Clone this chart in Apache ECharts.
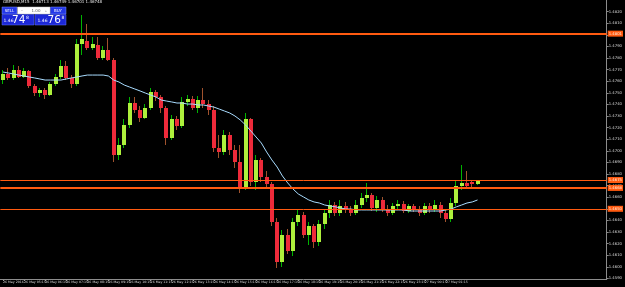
<!DOCTYPE html>
<html><head><meta charset="utf-8">
<script src="https://cdn.jsdelivr.net/npm/echarts@6/dist/echarts.min.js"></script>
<style>html,body{margin:0;padding:0;background:#000;}#c{width:625px;height:287px;}</style>
</head><body><div id="c"></div>
<script>
// ---- data (GBPUSD, M15) ----
const symbolTitle = 'GBPUSD,M15  1.46713 1.46749 1.46701 1.46748';
const tickLabels = ["26 May 2016","26 May 05:15","26 May 06:15","26 May 07:15","26 May 08:15","26 May 09:15","26 May 10:15","26 May 11:15","26 May 12:15","26 May 13:15","26 May 14:15","26 May 15:15","26 May 16:15","26 May 17:15","26 May 18:15","26 May 19:15","26 May 20:15","26 May 21:15","26 May 22:15","26 May 23:15","27 May 00:15","27 May 01:15","27 May 02:15"];
const priceTicks = [1.4820,1.4810,1.4800,1.4790,1.4780,1.4770,1.4760,1.4750,1.4740,1.4730,1.4720,1.4710,1.4700,1.4690,1.4680,1.4670,1.4660,1.4650,1.4640,1.4630,1.4620,1.4610,1.4600,1.4590];
const open = [
1.4761,1.4766,1.4763,1.4770,1.4764,
1.4769,1.4756,1.4750,1.4752,1.4748,
1.4758,1.4764,1.4773,1.4763,1.4758,
1.4792,1.4795,1.4789,1.4791,1.4780,
1.4787,1.4778,1.4696,1.4705,1.4722,
1.4741,1.4735,1.4728,1.4737,1.4751,
1.4746,1.4737,1.4711,1.4727,1.4721,
1.4742,1.4745,1.4737,1.4744,1.4740,
1.4735,1.4702,1.4699,1.4714,1.4701,
1.4690,1.4668,1.4727,1.4673,1.4692,
1.4677,1.4671,1.4639,1.4604,1.4627,
1.4614,1.4639,1.4645,1.4627,1.4635,
1.4621,1.4637,1.4646,1.4653,1.4646,
1.4652,1.4649,1.4646,1.4653,1.4659,
1.4662,1.4651,1.4658,1.4650,1.4646,
1.4652,1.4654,1.4648,1.4652,1.4650,
1.4646,1.4652,1.4649,1.4653,1.4646,
1.4641,1.4655,1.4670,1.4672,1.4673,
1.46713];
const close = [
1.4766,1.4763,1.4770,1.4764,1.4769,
1.4756,1.4750,1.4752,1.4748,1.4758,
1.4764,1.4773,1.4763,1.4758,1.4792,
1.4796,1.4789,1.4792,1.4780,1.4787,
1.4778,1.4696,1.4705,1.4722,1.4741,
1.4735,1.4728,1.4737,1.4751,1.4746,
1.4737,1.4711,1.4727,1.4721,1.4742,
1.4745,1.4737,1.4744,1.4740,1.4735,
1.4702,1.4699,1.4714,1.4701,1.4690,
1.4668,1.4727,1.4673,1.4692,1.4677,
1.4671,1.4639,1.4604,1.4627,1.4614,
1.4639,1.4645,1.4627,1.4635,1.4621,
1.4637,1.4646,1.4653,1.4646,1.4652,
1.4649,1.4646,1.4653,1.4659,1.4662,
1.4651,1.4658,1.4650,1.4646,1.4652,
1.4654,1.4648,1.4652,1.4650,1.4646,
1.4652,1.4649,1.4653,1.4646,1.4641,
1.4655,1.4670,1.4672,1.4670,1.4671,
1.46748];
const low = [
1.4758,1.4761,1.4761,1.4763,1.4763,
1.4754,1.4747,1.4746,1.4745,1.4747,
1.4756,1.4762,1.4761,1.4754,1.4756,
1.4783,1.4787,1.4787,1.4778,1.4778,
1.4777,1.4690,1.4692,1.4702,1.4720,
1.4733,1.4725,1.4727,1.4735,1.4743,
1.4733,1.4705,1.4709,1.4718,1.4720,
1.4739,1.4735,1.4733,1.4737,1.4731,
1.4699,1.4694,1.4696,1.4696,1.4685,
1.4664,1.4666,1.4670,1.4666,1.4673,
1.4668,1.4635,1.4599,1.4600,1.4611,
1.4609,1.4635,1.4625,1.4619,1.4616,
1.4618,1.4633,1.4642,1.4644,1.4644,
1.4646,1.4644,1.4645,1.4651,1.4656,
1.4648,1.4647,1.4647,1.4644,1.4645,
1.4649,1.4646,1.4646,1.4647,1.4644,
1.4645,1.4646,1.4647,1.4642,1.4639,
1.4639,1.4652,1.4666,1.4667,1.4668,
1.46701];
const high = [
1.4770,1.4771,1.4774,1.4773,1.4771,
1.4770,1.4758,1.4754,1.4754,1.4759,
1.4766,1.4778,1.4777,1.4765,1.4796,
1.4817,1.4809,1.4798,1.4798,1.4790,
1.4797,1.4780,1.4711,1.4727,1.4746,
1.4746,1.4739,1.4740,1.4754,1.4752,
1.4748,1.4739,1.4731,1.4730,1.4746,
1.4748,1.4747,1.4747,1.4754,1.4744,
1.4739,1.4714,1.4718,1.4716,1.4705,
1.4705,1.4733,1.4728,1.4696,1.4694,
1.4683,1.4673,1.4642,1.4632,1.4633,
1.4642,1.4649,1.4647,1.4639,1.4637,
1.4640,1.4649,1.4658,1.4656,1.4658,
1.4656,1.4652,1.4658,1.4664,1.4672,
1.4664,1.4661,1.4660,1.4653,1.4655,
1.4658,1.4657,1.4654,1.4654,1.4652,
1.4655,1.4655,1.4658,1.4656,1.4649,
1.4659,1.4675,1.4688,1.4683,1.4674,
1.46749];
const maValues = [
1.47679,1.47671,1.47662,1.47653,1.47645,1.47636,1.47628,1.47619,1.47610,1.47610,
1.47610,1.47610,1.47619,1.47628,1.47636,1.47645,1.47653,1.47653,1.47653,1.47653,
1.47645,1.47610,1.47593,1.47567,1.47550,1.47533,1.47516,1.47498,1.47481,1.47464,
1.47438,1.47429,1.47421,1.47412,1.47412,1.47403,1.47403,1.47395,1.47395,1.47386,
1.47377,1.47360,1.47343,1.47326,1.47300,1.47266,1.47223,1.47171,1.47119,1.47067,
1.46990,1.46921,1.46860,1.46783,1.46723,1.46671,1.46628,1.46602,1.46576,1.46559,
1.46550,1.46533,1.46524,1.46517,1.46507,1.46498,1.46498,1.46490,1.46490,1.46490,
1.46490,1.46490,1.46490,1.46490,1.46490,1.46490,1.46490,1.46481,1.46481,1.46481,
1.46481,1.46481,1.46481,1.46481,1.46490,1.46498,1.46517,1.46533,1.46550,1.46559,
1.46576];
const levelLines = [1.48010, 1.46748, 1.46680, 1.46500];
const levelWidths = [2, 1, 2, 1];
const sellPrice = ['1.46','74','8'];
const buyPrice = ['1.46','76','8'];

// ---- layout ----
const TOTAL_SLOTS = 115; // includes empty chart shift on the right
const startTime = Date.UTC(2016,4,26,4,15);
const mon = ['Jan','Feb','Mar','Apr','May','Jun','Jul','Aug','Sep','Oct','Nov','Dec'];
const categories = [];
for (let i = 0; i < TOTAL_SLOTS; i++) {
  if (i < open.length) {
    const d = new Date(startTime + i*15*60000);
    categories.push(d.getUTCDate()+' '+mon[d.getUTCMonth()]+' '+String(d.getUTCHours()).padStart(2,'0')+':'+String(d.getUTCMinutes()).padStart(2,'0'));
  } else categories.push('');
}
const candleData = open.map((o,i)=>[i,o,close[i],low[i],high[i]]);

const UP_BODY='#aef03c', DOWN_BODY='#ee2a3a', UP_WICK='#00b400', DOWN_WICK='#a0522d';
function renderCandle(params, api){
  const i=api.value(0), o=api.value(1), c=api.value(2), l=api.value(3), h=api.value(4);
  const pO=api.coord([i,o]), pC=api.coord([i,c]), pL=api.coord([i,l]), pH=api.coord([i,h]);
  const cx=Math.round(pO[0]);
  const up=c>=o;
  const top=Math.round(Math.min(pO[1],pC[1])), bot=Math.round(Math.max(pO[1],pC[1]));
  const wt=Math.round(pH[1]), wb=Math.round(pL[1]);
  return {type:'group', children:[
    {type:'rect', shape:{x:cx-1, y:wt, width:1, height:Math.max(1,wb-wt)}, style:{fill: up?UP_WICK:DOWN_WICK}},
    {type:'rect', shape:{x:cx-2, y:top, width:4, height:Math.max(1,bot-top)}, style:{fill: up?UP_BODY:DOWN_BODY}}
  ]};
}

const PPX = 0.0010/11.6;
const yMax = 1.4830, yMin = 1.4830 - 279*PPX;
const ORANGE='#ff5a10';
const labelShown = (i)=> i%4===0 && i/4 < tickLabels.length;

const chart = echarts.init(document.getElementById('c'), null, {renderer:'canvas'});
chart.setOption({
  backgroundColor:'#000000',
  animation:false,
  grid:{left:-2.667, top:0, width:613.667, height:279},
  xAxis:{type:'category', data:categories, boundaryGap:true,
    axisLine:{lineStyle:{color:'#8c8c8c', width:1}},
    axisTick:{show:true, alignWithLabel:true, length:2, interval:labelShown, lineStyle:{color:'#8c8c8c'}},
    axisLabel:{interval:labelShown, formatter:(v,i)=> tickLabels[i/4] || '', align:'left', fontSize:3.2, color:'#d8d8d8', margin:2, fontFamily:'DejaVu Sans', showMinLabel:true, hideOverlap:false},
    splitLine:{show:false}},
  yAxis:{type:'value', position:'right', min:yMin, max:yMax, scale:true,
    splitLine:{show:false},
    axisLine:{show:true, lineStyle:{color:'#8c8c8c'}},
    axisTick:{show:true, length:2, customValues:priceTicks, lineStyle:{color:'#8c8c8c'}},
    axisLabel:{customValues:priceTicks, formatter:(v)=>v.toFixed(4), fontSize:3.8, color:'#d8d8d8', margin:2, fontFamily:'DejaVu Sans'}},
  series:[
    {type:'custom', renderItem:renderCandle, data:candleData, encode:{x:0,y:[1,2,3,4]}, clip:true, z:3},
    {type:'line', data:maValues, showSymbol:false, symbol:'none', lineStyle:{color:'#a8dcff', width:1}, z:4, silent:true,
      markLine:{silent:true, precision:5, symbol:['none','none'], animation:false,
        data: levelLines.map((v,k)=>({yAxis:v, lineStyle:{color:ORANGE, width:levelWidths[k], type:'solid'},
          label:{show:true, position:'end', distance:1, formatter:()=>v.toFixed(4), backgroundColor:ORANGE, color:'#fff0e0', fontSize:3.8, padding:[1,1], fontFamily:'DejaVu Sans'}}))}}
  ],
  graphic:[
    {type:'text', left:3, top:0, style:{text:symbolTitle, fill:'#e8e8e8', fontSize:4, fontFamily:'DejaVu Sans'}},
    {type:'rect', shape:{x:2, y:7, width:15, height:7}, style:{fill:'#2438e8', stroke:'#7a8cff', lineWidth:0.5}},
    {type:'text', x:9.5, y:10.5, style:{text:'SELL', fill:'#ffffff', fontSize:4, align:'center', verticalAlign:'middle', fontFamily:'DejaVu Sans'}},
    {type:'rect', shape:{x:17.5, y:7, width:32.5, height:7}, style:{fill:'#ffffff', stroke:'#c0c0c0', lineWidth:0.5}},
    {type:'text', x:22, y:10.5, style:{text:'−', fill:'#888', fontSize:4, align:'center', verticalAlign:'middle'}},
    {type:'text', x:36, y:10.5, style:{text:'1.00', fill:'#606060', fontSize:4, align:'center', verticalAlign:'middle', fontFamily:'DejaVu Sans'}},
    {type:'text', x:46, y:10.5, style:{text:'+', fill:'#888', fontSize:4, align:'center', verticalAlign:'middle'}},
    {type:'rect', shape:{x:50.5, y:7, width:15.5, height:7}, style:{fill:'#2438e8', stroke:'#7a8cff', lineWidth:0.5}},
    {type:'text', x:58, y:10.5, style:{text:'BUY', fill:'#ffffff', fontSize:4, align:'center', verticalAlign:'middle', fontFamily:'DejaVu Sans'}},
    {type:'rect', shape:{x:2, y:14.5, width:32, height:10.5}, style:{fill:'#1c28d8', stroke:'#6070ff', lineWidth:0.5}},
    {type:'rect', shape:{x:35, y:14.5, width:31, height:10.5}, style:{fill:'#1c28d8', stroke:'#6070ff', lineWidth:0.5}},
    {type:'text', x:3.5, y:18, style:{text:sellPrice[0], fill:'#ffffff', fontSize:4.5, fontFamily:'DejaVu Sans'}},
    {type:'text', x:12, y:14.8, style:{text:sellPrice[1], fill:'#ffffff', fontSize:10.5, fontFamily:'DejaVu Sans'}},
    {type:'text', x:26, y:15, style:{text:sellPrice[2], fill:'#ffffff', fontSize:4.5, fontFamily:'DejaVu Sans'}},
    {type:'text', x:37.5, y:18, style:{text:buyPrice[0], fill:'#ffffff', fontSize:4.5, fontFamily:'DejaVu Sans'}},
    {type:'text', x:47.5, y:14.8, style:{text:buyPrice[1], fill:'#ffffff', fontSize:10.5, fontFamily:'DejaVu Sans'}},
    {type:'text', x:61.5, y:15, style:{text:buyPrice[2], fill:'#ffffff', fontSize:4.5, fontFamily:'DejaVu Sans'}}
  ]
});
</script></body></html>
